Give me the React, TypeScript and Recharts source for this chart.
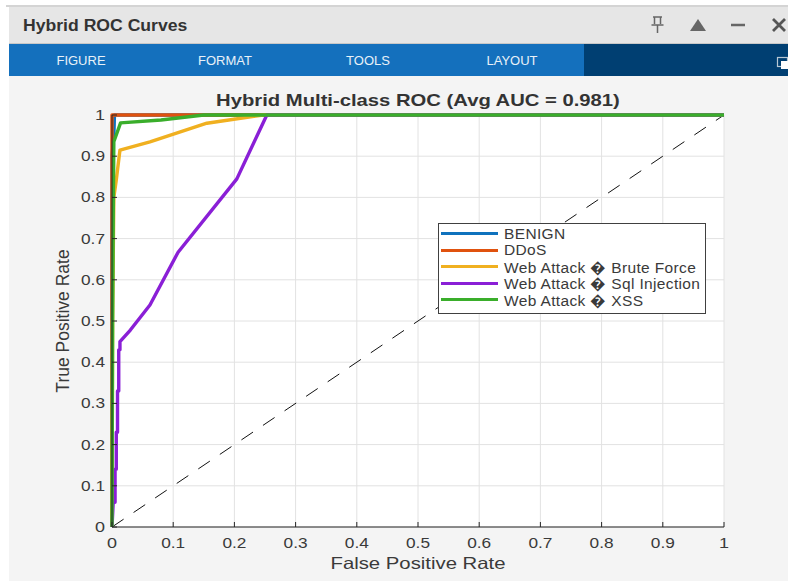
import React from 'react';
import { LineChart, Line, XAxis, YAxis, CartesianGrid, Legend } from 'recharts';

// axis ticks
const TICKS = [0, 0.1, 0.2, 0.3, 0.4, 0.5, 0.6, 0.7, 0.8, 0.9, 1];

// curves as [fpr, tpr]
const benign = [[0, 0], [0, 0.9], [0.003, 0.95], [0.004, 1], [1, 1]];
const ddos = [[0, 0], [0, 1], [1, 1]];
const bruteForce = [[0, 0], [0.001, 0.5], [0.003, 0.8], [0.007, 0.842], [0.013, 0.915], [0.062, 0.935], [0.155, 0.98], [0.247, 1], [1, 1]];
const sqlInjection = [
    [0, 0], [0.002, 0.06], [0.005, 0.06], [0.005, 0.14], [0.007, 0.14], [0.007, 0.23], [0.009, 0.23], [0.009, 0.33],
    [0.011, 0.33], [0.011, 0.43], [0.013, 0.43], [0.013, 0.45], [0.03, 0.478], [0.062, 0.539], [0.108, 0.667],
    [0.204, 0.845], [0.253, 1], [1, 1],
];
const xss = [[0, 0], [0.001, 0.5], [0.002, 0.75], [0.003, 0.935], [0.014, 0.981], [0.08, 0.988], [0.15, 1], [1, 1]];
const chance = [[0, 0], [1, 1]];

const toRows = (pts: number[][]) => pts.map(([fpr, tpr]) => ({ fpr, tpr }));

const SERIES = [
    { name: 'BENIGN', color: '#0f72bd', pts: benign },
    { name: 'DDoS', color: '#e0520e', pts: ddos },
    { name: 'Web Attack \uFFFD Brute Force', color: '#f0b020', pts: bruteForce },
    { name: 'Web Attack \uFFFD Sql Injection', color: '#8a1fd6', pts: sqlInjection },
    { name: 'Web Attack \uFFFD XSS', color: '#3aae2b', pts: xss },
];

const MENU: [string, number][] = [['FIGURE', 81], ['FORMAT', 225], ['TOOLS', 368], ['LAYOUT', 512]];

const FONT = '"Liberation Sans", Arial, sans-serif';
const TEXT = '#3a3a3a';

// the screenshot is stretched sideways, so tick labels get a fixed width
const tickWidth = (v: number) => (String(v).length === 1 ? 10 : 24);

// matlab style ticks point into the axes
const XTick = (props: any) => {
    const { x, payload } = props;
    return (
        <g>
            <line x1={x} x2={x} y1={527} y2={522} stroke="#262626" />
            <text x={x} y={548} textAnchor="middle" fontSize={15.5} fill={TEXT} fontFamily={FONT} textLength={tickWidth(payload.value)} lengthAdjust="spacingAndGlyphs">{payload.value}</text>
        </g>
    );
};
const YTick = (props: any) => {
    const { y, payload } = props;
    return (
        <g>
            <line x1={112} x2={117} y1={y} y2={y} stroke="#262626" />
            <text x={105} y={y + 5} textAnchor="end" fontSize={15.5} fill={TEXT} fontFamily={FONT} textLength={tickWidth(payload.value)} lengthAdjust="spacingAndGlyphs">{payload.value}</text>
        </g>
    );
};

const XLabel = () => (
    <text x={418} y={569} textAnchor="middle" fontSize={16.5} fill={TEXT} fontFamily={FONT} textLength={175} lengthAdjust="spacingAndGlyphs">False Positive Rate</text>
);
const YLabel = () => (
    <text x={0} y={0} transform="translate(69 321) rotate(-90)" textAnchor="middle" fontSize={17.5} fill={TEXT} fontFamily={FONT}>True Positive Rate</text>
);

const LegendBox = (props: any) => {
    const items = (props.payload || []).filter((p: any) => p.type !== 'none');
    return (
        <div style={{ width: 266, height: 87, border: '1.5px solid #404040', background: '#fff', paddingTop: 1.5, boxSizing: 'content-box' }}>
            {items.map((p: any) => (
                <div key={p.value} style={{ display: 'flex', alignItems: 'center', height: 16.5 }}>
                    <div style={{ width: 57, height: 3, marginLeft: 2, background: p.color }} />
                    <span style={{ marginLeft: 6, fontSize: 15.5, letterSpacing: 0.35, color: TEXT, fontFamily: FONT, whiteSpace: 'nowrap' }}>{p.value}</span>
                </div>
            ))}
        </div>
    );
};

const App = () => {
    return (
        <div style={{ position: 'absolute', left: 0, top: 0, width: 788, height: 581, background: '#fff', overflow: 'hidden', fontFamily: FONT }}>
            {/* window chrome */}
            <div style={{ position: 'absolute', left: 9, top: 7, right: 0, bottom: 0, background: '#f4f4f4' }} />
            <div style={{ position: 'absolute', left: 6, top: 5, right: 0, height: 2, background: '#d4d4d4' }} />
            <div style={{ position: 'absolute', left: 9, top: 7, right: 0, height: 37, background: '#e6e6e6', borderBottom: '1px solid #c8c8c8', boxSizing: 'border-box' }} />
            <div style={{ position: 'absolute', left: 23, top: 17, fontSize: 16, fontWeight: 700, color: '#333', transform: 'scaleX(1.1)', transformOrigin: 'left', whiteSpace: 'nowrap' }}>Hybrid ROC Curves</div>
            <svg style={{ position: 'absolute', left: 640, top: 8, width: 148, height: 34 }}>
                {/* pin */}
                <path d="M13 9h9M14.5 9v7M20.5 9v7M11.5 17h12M17.5 17v8" stroke="#666" strokeWidth={1.5} fill="none" />
                {/* collapse */}
                <path d="M50 23L58 11L66 23Z" fill="#666" />
                {/* minimise */}
                <path d="M91 17H105" stroke="#666" strokeWidth={2.5} />
                {/* close */}
                <path d="M133 11L145 23M145 11L133 23" stroke="#555" strokeWidth={2.8} />
            </svg>
            <div style={{ position: 'absolute', left: 9, top: 44, right: 0, height: 32, background: '#1470bd' }} />
            <div style={{ position: 'absolute', left: 584, top: 44, right: 0, height: 32, background: '#003f72' }} />
            {MENU.map(([label, cx]) => (
                <div key={label} style={{ position: 'absolute', left: cx - 50, width: 100, top: 53, textAlign: 'center', fontSize: 13, color: '#e8f1f8' }}>{label}</div>
            ))}
            <svg style={{ position: 'absolute', left: 776, top: 56, width: 12, height: 13 }}>
                <rect x={1.5} y={1.5} width={10} height={9} fill="none" stroke="#b8c8d4" strokeWidth={1.2} />
                <rect x={5} y={5} width={7} height={8} fill="#fff" />
            </svg>
            <div style={{ position: 'absolute', left: 0, width: 836, top: 91, textAlign: 'center', fontSize: 17, fontWeight: 700, color: '#333', transform: 'scaleX(1.19)', whiteSpace: 'nowrap' }}>Hybrid Multi-class ROC (Avg AUC = 0.981)</div>

            {/* white axes background, sits under the chart svg */}
            <div style={{ position: 'absolute', left: 112, top: 115, width: 612, height: 412, background: '#fff' }} />

            <div style={{ position: 'absolute', left: 0, top: 0 }}>
                <LineChart width={788} height={581} margin={{ top: 115, right: 64, bottom: 24, left: 72 }}>
                    <CartesianGrid stroke="#e2e2e2" horizontalValues={TICKS} verticalValues={TICKS} />
                    <XAxis
                        type="number"
                        dataKey="fpr"
                        domain={[0, 1]}
                        ticks={TICKS}
                        height={30}
                        stroke="#262626"
                        tickLine={false}
                        tick={<XTick />}
                        interval={0}
                        label={<XLabel />}
                    />
                    <YAxis
                        type="number"
                        dataKey="tpr"
                        domain={[0, 1]}
                        ticks={TICKS}
                        width={40}
                        stroke="#262626"
                        tickLine={false}
                        tick={<YTick />}
                        interval={0}
                        label={<YLabel />}
                    />
                    <Line data={toRows(chance)} dataKey="tpr" name="chance" legendType="none" stroke="#111" strokeWidth={1} strokeDasharray="14 12" dot={false} isAnimationActive={false} />
                    {SERIES.map((s) => (
                        <Line key={s.name} data={toRows(s.pts)} dataKey="tpr" name={s.name} stroke={s.color} strokeWidth={3.4} strokeLinejoin="round" dot={false} isAnimationActive={false} />
                    ))}
                    <Legend layout="horizontal" align="center" verticalAlign="middle" content={<LegendBox />} wrapperStyle={{ position: 'absolute', left: 438, top: 223, width: 'auto', height: 'auto' }} />
                </LineChart>
            </div>
        </div>
    );
};

export default App;
